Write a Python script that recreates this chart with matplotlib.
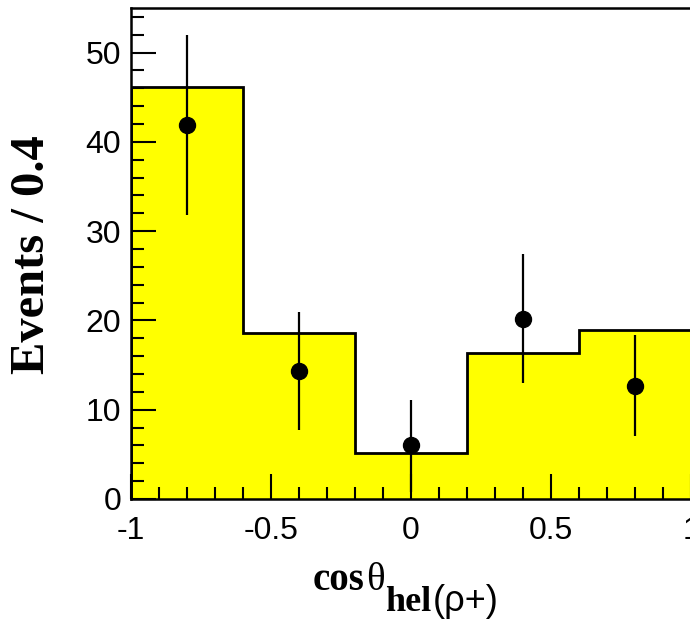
import matplotlib
matplotlib.use("Agg")
import matplotlib.pyplot as plt
import numpy as np
from matplotlib.ticker import MultipleLocator, FixedLocator, FixedFormatter

# Data
bin_edges = [-1.0, -0.6, -0.2, 0.2, 0.6, 1.0]
hist_counts = [46.1, 18.55, 5.2, 16.4, 18.9]
data_x = [-0.8, -0.4, 0.0, 0.4, 0.8]
data_y = [41.9, 14.3, 6.05, 20.2, 12.7]
err_low = [10.1, 6.6, 5.25, 7.25, 5.65]
err_high = [10.1, 6.6, 5.05, 7.3, 5.7]
xtick_vals = [-1, -0.5, 0, 0.5, 1]
xtick_labels = ['-1', '-0.5', '0', '0.5', '1']
ytick_vals = [0, 10, 20, 30, 40, 50]

fig = plt.figure(figsize=(6.9, 6.21), dpi=100)
W, H = 690, 621
ax = fig.add_axes([131 / W, (H - 499) / H, (691 - 131) / W, (499 - 8) / H])

ax.stairs(hist_counts, bin_edges, fill=True, facecolor='#ffff00', edgecolor='none', zorder=1)
ax.stairs(hist_counts, bin_edges, fill=False, color='black', linewidth=2, zorder=2)
ax.errorbar(data_x, data_y, yerr=[err_low, err_high], fmt='o', color='black',
            markersize=11.5, elinewidth=1.6, capsize=0, zorder=4)

ax.set_xlim(-1, 1)
ax.set_ylim(0, 55)

ax.xaxis.set_major_locator(FixedLocator(xtick_vals))
ax.xaxis.set_major_formatter(FixedFormatter(xtick_labels))
ax.xaxis.set_minor_locator(MultipleLocator(0.1))
ax.yaxis.set_major_locator(FixedLocator(ytick_vals))
ax.yaxis.set_minor_locator(MultipleLocator(2))

ax.tick_params(which='both', direction='in', top=False, right=False, width=1.5)
ax.tick_params(which='major', length=18, labelsize=23)
ax.tick_params(which='minor', length=9)
for lab in ax.get_xticklabels() + ax.get_yticklabels():
    lab.set_fontfamily('Liberation Sans')
ax.tick_params(axis='x', pad=12)
ax.tick_params(axis='y', pad=7)

for s in ax.spines.values():
    s.set_linewidth(1.8)
    s.set_zorder(5)

# Y label
fig.text(32 / W, 1 - 255 / H, 'Events / 0.4', rotation=90, ha='center', va='center',
         fontsize=35, fontfamily='Liberation Serif', fontweight='bold')

# X label built from pieces: cosθ with subscript hel(ρ+)
renderer = fig.canvas.get_renderer()
x0 = 313
main_base = 590
sub_base = 611
pieces = [
    ('cos', 28, 'Liberation Serif', 'bold', main_base),
    ('θ', 28, 'Liberation Serif', 'normal', main_base),
    ('hel', 26, 'Liberation Serif', 'bold', sub_base),
    ('(ρ+)', 26, 'Liberation Sans', 'normal', sub_base),
]
cur = x0
for txt, fs, fam, fw, base in pieces:
    t = fig.text(cur / W, 1 - base / H, txt, ha='left', va='baseline',
                 fontsize=fs, fontfamily=fam, fontweight=fw)
    bb = t.get_window_extent(renderer=renderer)
    cur = bb.x1 + 1

fig.savefig('out.png', dpi=100)
